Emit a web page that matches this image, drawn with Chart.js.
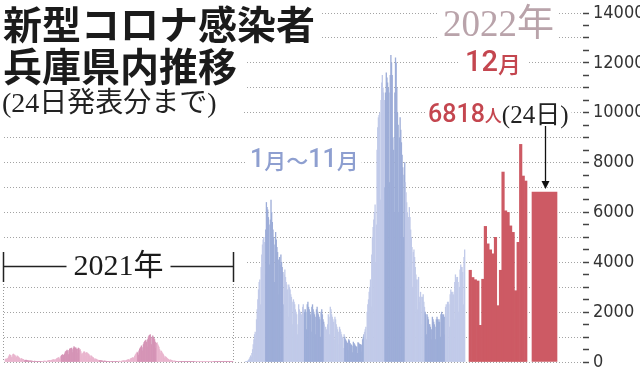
<!DOCTYPE html>
<html lang="ja">
<head>
<meta charset="utf-8">
<script src="https://cdn.jsdelivr.net/npm/chart.js@4.4.1/dist/chart.umd.min.js"></script>
<style>
  html, body { margin: 0; padding: 0; background: #fff; }
  #wrap { width: 640px; height: 375px; position: relative; }
</style>
</head>
<body>
<div id="wrap"><canvas id="hyogoChart"></canvas></div>
<script>
// daily new cases, Hyogo prefecture
const cases2021 = [
  110, 130, 120, 100, 150, 200, 250,
  297, 270, 260, 180, 200, 300, 320,
  290, 280, 250, 150, 200, 250, 230,
  200, 180, 150, 90, 130, 140, 120,
  110, 100, 80, 50, 70, 80, 70,
  60, 55, 50, 30, 45, 50, 40,
  40, 35, 30, 20, 30, 35, 30,
  30, 28, 25, 15, 25, 30, 28,
  25, 28, 20, 15, 22, 30, 35,
  35, 40, 30, 20, 40, 50, 55,
  60, 70, 55, 35, 70, 80, 90,
  90, 100, 80, 60, 110, 130, 150,
  160, 180, 150, 110, 200, 230, 260,
  280, 300, 270, 200, 330, 400, 430,
  450, 480, 420, 300, 470, 520, 540,
  540, 560, 500, 380, 560, 620, 580,
  560, 570, 520, 360, 520, 560, 540,
  480, 500, 420, 300, 350, 300, 380,
  420, 400, 360, 250, 380, 370, 340,
  320, 300, 250, 160, 250, 240, 210,
  190, 170, 140, 90, 130, 120, 110,
  90, 80, 70, 40, 60, 60, 55,
  50, 45, 35, 20, 35, 40, 35,
  30, 30, 25, 15, 25, 25, 20,
  20, 20, 15, 10, 18, 20, 20,
  20, 22, 18, 12, 25, 28, 30,
  30, 35, 30, 20, 35, 40, 45,
  50, 55, 45, 35, 60, 70, 80,
  90, 100, 90, 60, 120, 140, 150,
  160, 180, 170, 130, 230, 280, 320,
  360, 400, 370, 280, 450, 520, 560,
  600, 650, 580, 450, 700, 780, 820,
  850, 880, 800, 600, 900, 1000, 1050,
  1070, 1100, 1000, 700, 950, 1050, 1000,
  950, 900, 800, 550, 750, 780, 700,
  650, 600, 500, 350, 450, 430, 380,
  340, 300, 250, 160, 220, 200, 180,
  150, 130, 110, 60, 80, 90, 80,
  70, 60, 50, 30, 45, 40, 35,
  30, 25, 20, 12, 20, 20, 18,
  15, 12, 10, 6, 10, 10, 8,
  8, 7, 6, 3, 6, 6, 5,
  5, 5, 4, 2, 4, 5, 4,
  4, 4, 3, 1, 3, 3, 3,
  3, 3, 2, 1, 3, 3, 2,
  3, 2, 2, 1, 2, 3, 2,
  2, 2, 2, 1, 2, 2, 3,
  3, 2, 2, 1, 3, 3, 3,
  3, 3, 2, 1, 3, 4, 3,
  3, 3, 3, 2, 3, 4, 4,
  4, 4, 3, 2, 4, 5, 6,
  6, 7, 8, 5, 12, 18, 22,
  30
];

// 2022, 1 Jan - 30 Nov
const cases2022 = [
  20, 25, 15, 30, 50, 80, 120,
  180, 250, 200, 350, 500, 700, 900,
  1100, 1200, 900, 1700, 2100, 2500, 2900,
  3200, 3300, 2300, 3800, 4300, 4700, 4900,
  5000, 4800, 3500, 5300, 6400, 6200, 6100,
  5800, 5500, 3900, 5700, 6500, 6000, 5600,
  5300, 5000, 3200, 4700, 5200, 4900, 4600,
  4400, 4100, 2700, 4200, 3900, 4300, 4000,
  3800, 3600, 2300, 3500, 3700, 3400, 3200,
  3100, 2900, 1800, 3100, 3000, 2900, 2700,
  2600, 2400, 1500, 2500, 2400, 2300, 2100,
  2000, 1900, 1100, 1500, 2300, 2100, 2000,
  2000, 1900, 1200, 2200, 2300, 2100, 2000,
  2100, 2000, 1300, 2300, 2400, 2200, 2100,
  2000, 1900, 1200, 2200, 2300, 2100, 2000,
  1900, 1800, 1100, 2100, 2200, 2000, 1900,
  1800, 1700, 1000, 2000, 2100, 1900, 1700,
  1600, 1500, 900, 1400, 1300, 1200, 1500,
  1900, 1800, 1100, 2200, 2100, 1900, 1800,
  1700, 1600, 900, 1800, 1700, 1500, 1400,
  1300, 1200, 700, 1400, 1300, 1200, 1100,
  1000, 950, 550, 1100, 1000, 900, 850,
  800, 750, 450, 900, 850, 750, 700,
  680, 640, 380, 800, 750, 700, 650,
  620, 600, 350, 780, 760, 720, 700,
  700, 680, 400, 900, 1000, 1100, 1200,
  1300, 1400, 900, 2000, 2300, 2500, 2800,
  3000, 3300, 2200, 4300, 5000, 5400, 5700,
  6000, 6300, 4000, 5500, 8500, 9400, 9800,
  9900, 10000, 6500, 10500, 11200, 11500, 11000,
  10800, 10500, 7000, 10800, 11600, 11400, 11200,
  11000, 10800, 7200, 11500, 12300, 12000, 11500,
  9000, 8500, 6000, 10800, 12200, 12000, 11000,
  10000, 9500, 6000, 9000, 9800, 9300, 8800,
  8300, 7800, 5000, 7500, 8000, 7200, 6800,
  6400, 6000, 3800, 5800, 6200, 5800, 5300,
  5000, 4600, 3000, 4400, 4500, 4200, 3800,
  3500, 3300, 2100, 3300, 3400, 2600, 2400,
  2800, 2600, 1500, 2600, 2700, 2400, 2200,
  2000, 1900, 1100, 1900, 1800, 1700, 1500,
  1500, 1400, 900, 1300, 1800, 1700, 1600,
  1500, 1400, 900, 1700, 1800, 1700, 1600,
  1700, 1600, 1000, 1900, 2000, 1900, 1800,
  1900, 1800, 1100, 2200, 2300, 1800, 2400,
  2400, 2300, 1400, 2700, 2900, 2800, 2700,
  2800, 2700, 1700, 3200, 3500, 3400, 3300,
  3400, 3200, 2000, 3000, 3700, 3900, 3800,
  3800, 3600, 2300, 4200, 4500
];

// December 2022, 1st - 23rd
const casesDec = [
  3680, 3390, 3300, 3250, 1470, 3320, 5440,
  4740, 4500, 4340, 5000, 2260, 3680, 7620,
  6060, 6000, 5460, 5200, 2860, 4800, 8730,
  7460, 7260
];
// 24 December (highlighted)
const casesLast = [6818];
const lastDay = 24;

const yLabelValues = [0, 2000, 4000, 6000, 8000, 10000, 12000, 14000];
const monthLengths = [31, 28, 31, 30, 31, 30, 31, 31, 30, 31, 30, 31];

const pinkLight = '#e9b5ce';
const pinkDark = '#d594b6';
const blueLight = '#c1cae9';
const blueDark = '#9dadd8';
const red = '#cd5a64';
const textRed = '#c4464f';

// plot box (left padding, right = canvas width - y axis width)
const PLOT_LEFT = 4;
const PLOT_RIGHT = 583;

// hidden linear axis placing days first..last between two pixel edges
function spanAxis(first, last, fromPx, toPx) {
  const unit = (toPx - fromPx) / (last - first + 1);
  const min = first - 0.5 - (fromPx - PLOT_LEFT) / unit;
  const max = min + (PLOT_RIGHT - PLOT_LEFT) / unit;
  return {
    type: 'linear', display: false, offset: false, bounds: 'data',
    min, max, grid: { display: false, offset: false },
    dayWidth: unit,
  };
}

const axis2021 = spanAxis(1, cases2021.length, 5, 233);
const axis2022 = spanAxis(1, cases2022.length, 245, 465);
const axisDec = spanAxis(1, casesDec.length, 469, 527);
const axisLast = spanAxis(lastDay, lastDay, 532, 557);

function monthOf(day) {
  let m = 0;
  let d = day;
  while (m < 11 && d > monthLengths[m]) {
    d -= monthLengths[m];
    m++;
  }
  return m;
}

const toPoints = (values, start) => values.map((y, i) => ({ x: start + i, y }));

function monthShade(light, dark) {
  return (ctx) => (ctx.raw && monthOf(ctx.raw.x) % 2 === 1 ? dark : light);
}

function drawRuns(ctx, x, y, runs) {
  let cx = x;
  runs.forEach((r) => {
    ctx.font = r.font;
    ctx.fillStyle = r.color;
    ctx.fillText(r.text, cx, y);
    cx += ctx.measureText(r.text).width;
  });
  return cx;
}

function runsWidth(ctx, runs) {
  let w = 0;
  runs.forEach((r) => {
    ctx.font = r.font;
    w += ctx.measureText(r.text).width;
  });
  return w;
}

const CJK = '"Noto Sans CJK JP"';
const SERIF = '"Liberation Serif", "Noto Sans CJK JP", serif';

// labels placed on the picture: x, y (middle), runs, mask padding
const labels = [
  { x: 3, y: 24, padL: 4, padR: 6, h: 44, runs: [{ text: '新型コロナ感染者', font: `bold 39px ${CJK}`, color: '#1b1b1b' }] },
  { x: 3, y: 66, padL: 4, padR: 8, h: 44, runs: [{ text: '兵庫県内推移', font: `bold 39px ${CJK}`, color: '#1b1b1b' }] },
  { x: 2, y: 105, padL: 2, padR: 26, h: 30, runs: [{ text: '(24日発表分まで)', font: `28px ${SERIF}`, color: '#222' }] },
  { x: 443, y: 26, padL: 6, padR: 4, h: 40, runs: [{ text: '2022年', font: `37px ${SERIF}`, color: '#b9a3aa' }] },
  { x: 465, y: 64, padL: 5, padR: 8, h: 26, runs: [
    { text: '12', font: `500 29px Roboto`, color: textRed },
    { text: '月', font: `500 23px ${CJK}`, color: textRed },
  ] },
  { x: 428, y: 116, padL: 3, padR: 3, h: 26, runs: [
    { text: '6818', font: `500 25px Roboto`, color: textRed },
    { text: '人', font: `500 17px ${CJK}`, color: textRed },
    { text: '(24日)', font: `25px ${SERIF}`, color: '#222' },
  ] },
  { x: 250, y: 161, padL: 4, padR: 3, h: 24, runs: [
    { text: '1', font: `500 25px Roboto`, color: '#8e9fd0' },
    { text: '月〜', font: `500 22px ${CJK}`, color: '#8e9fd0' },
    { text: '11', font: `500 25px Roboto`, color: '#8e9fd0' },
    { text: '月', font: `500 22px ${CJK}`, color: '#8e9fd0' },
  ] },
];

const yearFont = `30px ${SERIF}`;

const annotationPlugin = {
  id: 'annotations',
  beforeDatasetsDraw(chart) {
    const { ctx } = chart;
    const x21 = chart.scales.x21;
    ctx.save();
    ctx.fillStyle = '#fff';
    labels.forEach((lb) => {
      const w = runsWidth(ctx, lb.runs);
      ctx.fillRect(lb.x - lb.padL, lb.y - lb.h / 2, w + lb.padL + lb.padR, lb.h);
    });
    // band behind the 2021 bracket
    const right = x21.getPixelForValue(cases2021.length + 0.5);
    ctx.fillRect(0, 250, right + 12, 33);
    ctx.restore();
  },
  afterDraw(chart) {
    const { ctx, chartArea } = chart;
    const x21 = chart.scales.x21;
    ctx.save();
    ctx.textBaseline = 'middle';
    labels.forEach((lb) => drawRuns(ctx, lb.x, lb.y, lb.runs));

    // 2021 bracket
    const left = Math.round(x21.getPixelForValue(0.5)) - 1.5;
    const right = Math.round(x21.getPixelForValue(cases2021.length + 0.5)) + 0.5;
    const mid = (left + right) / 2;
    const yb = 266.5;
    ctx.font = yearFont;
    const half = ctx.measureText('2021年').width / 2 + 7;
    ctx.strokeStyle = '#222';
    ctx.lineWidth = 1.5;
    ctx.beginPath();
    ctx.moveTo(left, 252); ctx.lineTo(left, 282);
    ctx.moveTo(right, 252); ctx.lineTo(right, 282);
    ctx.moveTo(left, yb); ctx.lineTo(mid - half, yb);
    ctx.moveTo(mid + half, yb); ctx.lineTo(right, yb);
    ctx.stroke();
    ctx.fillStyle = '#1b1b1b';
    ctx.textAlign = 'center';
    ctx.fillText('2021年', mid, 267);
    ctx.textAlign = 'left';

    // dotted edges of the 2021 span
    ctx.strokeStyle = '#9a9a9a';
    ctx.lineWidth = 1;
    ctx.setLineDash([1, 2]);
    ctx.beginPath();
    ctx.moveTo(left, 284); ctx.lineTo(left, chartArea.bottom);
    ctx.moveTo(right, 284); ctx.lineTo(right, chartArea.bottom);
    ctx.stroke();
    ctx.setLineDash([]);

    // arrow to the 24th bar
    const bar = chart.getDatasetMeta(3).data[0];
    const ax = Math.round(bar.x) + 0.5;
    const tip = bar.y - 3;
    ctx.strokeStyle = '#111';
    ctx.fillStyle = '#111';
    ctx.lineWidth = 1.3;
    ctx.beginPath();
    ctx.moveTo(ax, 126); ctx.lineTo(ax, tip - 6);
    ctx.stroke();
    ctx.beginPath();
    ctx.moveTo(ax - 4, tip - 8); ctx.lineTo(ax + 4, tip - 8); ctx.lineTo(ax, tip);
    ctx.closePath();
    ctx.fill();
    ctx.restore();
  },
};

const barCommon = { barPercentage: 1, categoryPercentage: 1, borderWidth: 0, grouped: false };

new Chart(document.getElementById('hyogoChart'), {
  type: 'bar',
  data: {
    datasets: [
      { ...barCommon, label: '2021年', xAxisID: 'x21', data: toPoints(cases2021, 1), barThickness: axis2021.dayWidth, backgroundColor: monthShade(pinkLight, pinkDark) },
      { ...barCommon, label: '2022年1月〜11月', xAxisID: 'x22', data: toPoints(cases2022, 1), barThickness: axis2022.dayWidth, backgroundColor: monthShade(blueLight, blueDark) },
      { ...barCommon, label: '12月', xAxisID: 'xDec', data: toPoints(casesDec, 1), barThickness: axisDec.dayWidth, backgroundColor: red },
      { ...barCommon, label: '24日', xAxisID: 'xLast', data: toPoints(casesLast, lastDay), barThickness: axisLast.dayWidth, backgroundColor: red },
    ],
  },
  options: {
    responsive: true,
    maintainAspectRatio: false,
    animation: false,
    events: [],
    layout: { padding: { left: PLOT_LEFT, right: 0, top: 13, bottom: 9 } },
    plugins: {
      legend: { display: false },
      tooltip: { enabled: false },
    },
    scales: {
      x21: axis2021,
      x22: axis2022,
      xDec: axisDec,
      xLast: axisLast,
      y: {
        position: 'right',
        min: 0,
        max: 14000,
        afterFit(scale) {
          scale.width = 640 - PLOT_RIGHT;
        },
        border: { display: false, dash: [1, 2] },
        grid: {
          color: (ctx) => (ctx.tick && ctx.tick.value % 1000 === 0 ? '#a3a3a3' : 'rgba(0,0,0,0)'),
          lineWidth: 1,
          tickColor: '#444',
          tickLength: 6,
          tickWidth: 1.5,
        },
        ticks: {
          stepSize: 500,
          autoSkip: false,
          padding: 4,
          color: '#333',
          font: { family: '"Liberation Sans Narrow", "DejaVu Sans Condensed", sans-serif', size: 18, lineHeight: 1 },
          callback(value) {
            return yLabelValues.includes(value) ? String(value) : '';
          },
        },
      },
    },
  },
  plugins: [annotationPlugin],
});
</script>
</body>
</html>
